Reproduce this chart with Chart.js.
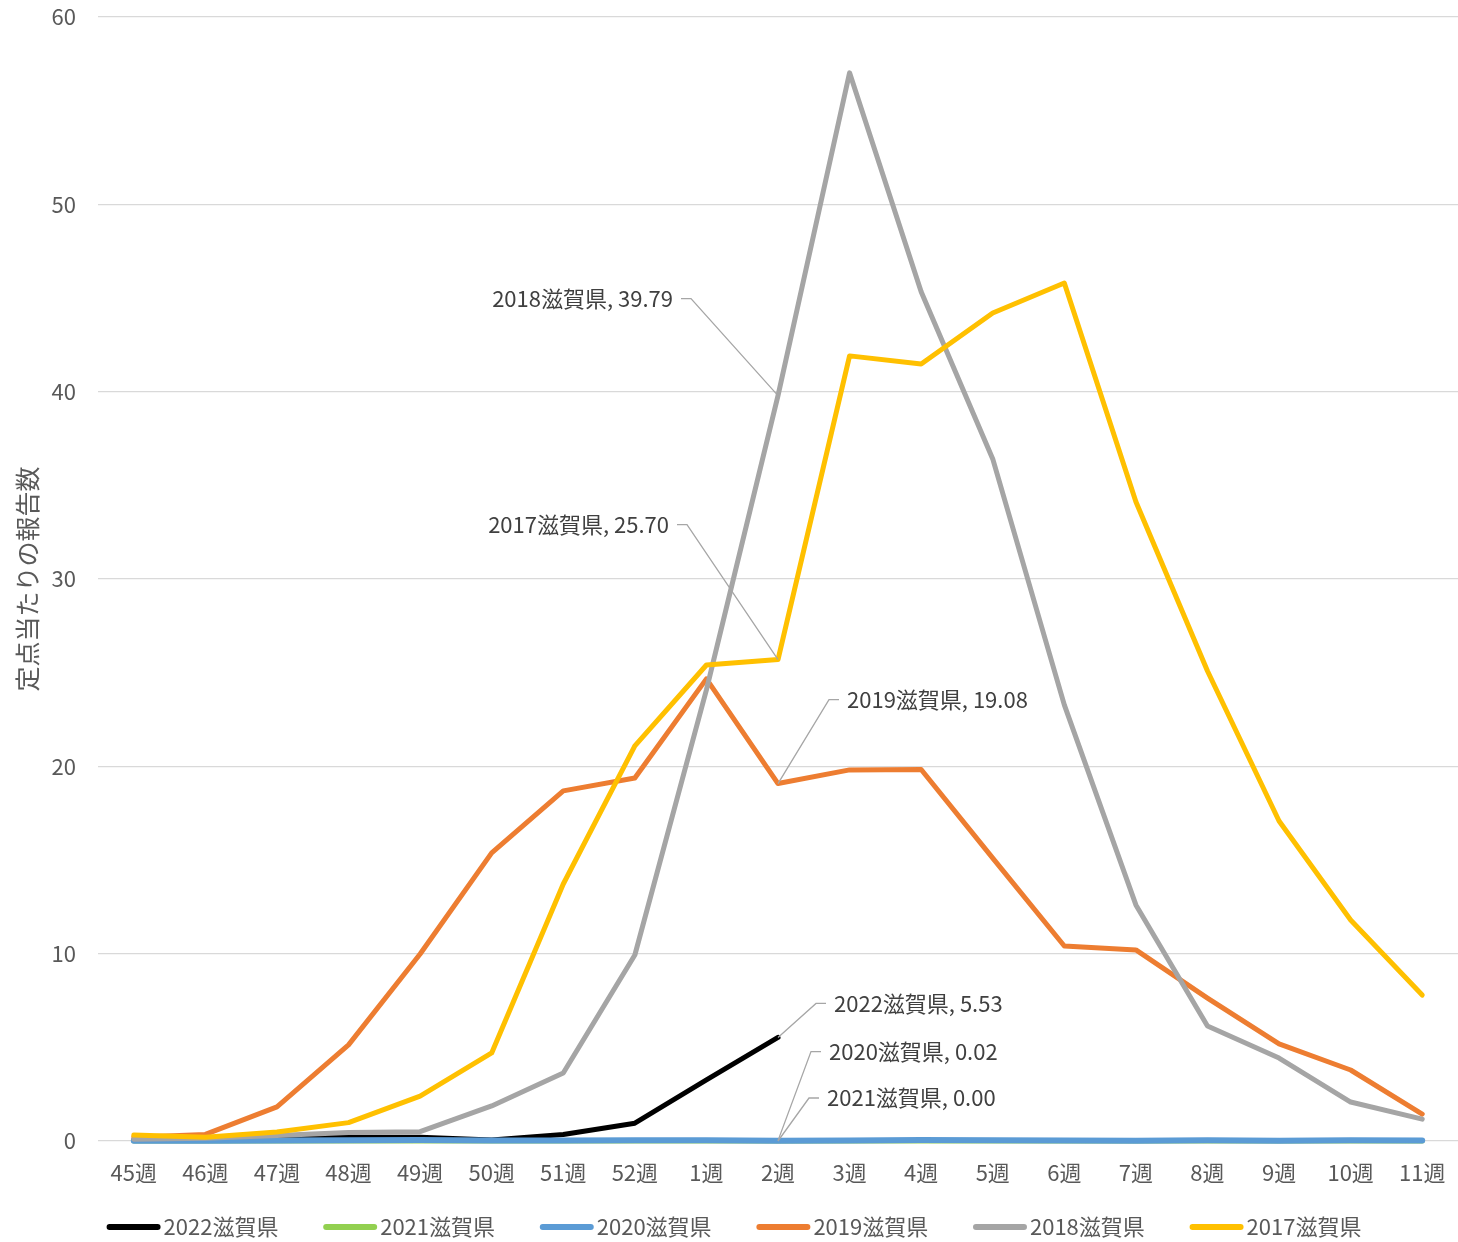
<!DOCTYPE html>
<html lang="ja">
<head>
<meta charset="utf-8">
<title>定点当たりの報告数 滋賀県</title>
<script src="https://cdn.jsdelivr.net/npm/chart.js@4.4.1/dist/chart.umd.min.js"></script>
<style>
    html, body { margin: 0; padding: 0; background: #fff; }
    #wrap { width: 1458px; height: 1242px; }
</style>
</head>
<body>
<div id="wrap"><canvas id="chart" width="1458" height="1242"></canvas></div>
<script>
// --- データ ---
const weeks = ['45週', '46週', '47週', '48週', '49週', '50週', '51週', '52週', '1週', '2週',
               '3週', '4週', '5週', '6週', '7週', '8週', '9週', '10週', '11週'];

const seriesNames = ['2022滋賀県', '2021滋賀県', '2020滋賀県', '2019滋賀県', '2018滋賀県', '2017滋賀県'];

const data2022 = [0.05, 0.1, 0.15, 0.2, 0.2, 0.05, 0.35, 0.95, 3.26, 5.53];
const data2021 = [0, 0, 0, 0, 0, 0, 0, 0, 0, 0, 0, 0, 0, 0, 0, 0, 0, 0, 0];
const data2020 = [0.01, 0.02, 0.03, 0.04, 0.05, 0.03, 0.03, 0.04, 0.04, 0.02, 0.03, 0.05, 0.04, 0.03, 0.02, 0.04, 0.02, 0.04, 0.03];
const data2019 = [0.2, 0.35, 1.82, 5.13, 9.98, 15.38, 18.69, 19.38, 24.67, 19.08, 19.81, 19.83, 15.1, 10.41, 10.2, 7.63, 5.18, 3.79, 1.44];
const data2018 = [0.1, 0.15, 0.3, 0.45, 0.5, 1.87, 3.63, 9.93, 24.08, 39.79, 57.02, 45.33, 36.41, 23.28, 12.6, 6.14, 4.43, 2.08, 1.17];
const data2017 = [0.32, 0.2, 0.48, 0.98, 2.4, 4.7, 13.72, 21.09, 25.41, 25.70, 41.91, 41.48, 44.2, 45.8, 34.12, 25.09, 17.08, 11.8, 7.79];

const yTicks = [0, 10, 20, 30, 40, 50, 60];

// --- スタイル ---
const colors = ['#000000', '#92d050', '#5b9bd5', '#ed7d31', '#a5a5a5', '#ffc000'];
const widths = [5, 5, 6, 5, 5, 5];
const allData = [data2022, data2021, data2020, data2019, data2018, data2017];
const FONT = '"Noto Sans CJK JP", "Noto Sans", sans-serif';
const TEXT_COLOR = '#595959';
const LABEL_INDEX = 9; // 2週

// ラベル位置 (データ点からのオフセット, px)
const labelOffsets = [
    { dx: 38, dy: -34, side: 'right' },   // 2022
    { dx: 31, dy: -43, side: 'right' },   // 2021 (2020ラベルの下)
    { dx: 33, dy: -89, side: 'right' },   // 2020
    { dx: 51, dy: -84, side: 'right' },   // 2019
    { dx: -87, dy: -97, side: 'left' },   // 2018
    { dx: -91, dy: -135, side: 'left' }   // 2017
];

const datasets = seriesNames.map((name, i) => ({
    label: name,
    data: allData[i],
    borderColor: colors[i],
    backgroundColor: colors[i],
    borderWidth: widths[i],
    pointRadius: 0,
    pointHoverRadius: 0,
    tension: 0,
    borderCapStyle: 'round',
    borderJoinStyle: 'round',
    clip: false,
    order: seriesNames.length - i
}));

// データラベル + 引き出し線
const leaderLabels = {
    id: 'leaderLabels',
    afterDatasetsDraw(chart) {
        const ctx = chart.ctx;
        const xs = chart.scales.x, ys = chart.scales.y;
        ctx.save();
        ctx.font = '22px ' + FONT;
        ctx.textBaseline = 'middle';
        datasets.forEach((ds, i) => {
            const v = ds.data[LABEL_INDEX];
            if (v === undefined) return;
            const px = xs.getPixelForValue(LABEL_INDEX);
            const py = ys.getPixelForValue(v);
            const off = labelOffsets[i];
            const ex = px + off.dx, ey = py + off.dy;
            const dir = off.side === 'right' ? 1 : -1;
            const hx = ex + dir * 10;
            ctx.strokeStyle = '#a6a6a6';
            ctx.lineWidth = 1.3;
            ctx.beginPath();
            ctx.moveTo(px, py);
            ctx.lineTo(ex, ey);
            ctx.lineTo(hx, ey);
            ctx.stroke();
            ctx.fillStyle = '#404040';
            ctx.textAlign = off.side === 'right' ? 'left' : 'right';
            ctx.fillText(ds.label + ', ' + v.toFixed(2), hx + dir * 8, ey);
        });
        ctx.restore();
    }
};

// 凡例 (線のサンプル付き)
const bottomLegend = {
    id: 'bottomLegend',
    afterDraw(chart) {
        const ctx = chart.ctx;
        ctx.save();
        ctx.font = '22px ' + FONT;
        ctx.textBaseline = 'middle';
        ctx.textAlign = 'left';
        const lineW = 54, gap = 3, step = 216.6;
        const lastW = lineW + gap + ctx.measureText(seriesNames[5]).width;
        const total = step * 5 + lastW;
        let x = (chart.width - total) / 2 + 5;
        const y = 1227;
        seriesNames.forEach((name, i) => {
            ctx.strokeStyle = colors[i];
            ctx.lineWidth = 6;
            ctx.lineCap = 'round';
            ctx.beginPath();
            ctx.moveTo(x + 3, y);
            ctx.lineTo(x + lineW - 3, y);
            ctx.stroke();
            ctx.fillStyle = TEXT_COLOR;
            ctx.fillText(name, x + lineW + gap, y);
            x += step;
        });
        ctx.restore();
    }
};

new Chart(document.getElementById('chart'), {
    type: 'line',
    data: { labels: weeks, datasets: datasets },
    plugins: [leaderLabels, bottomLegend],
    options: {
        responsive: false,
        animation: false,
        layout: { padding: { top: 17, right: 0, bottom: 51, left: 0 } },
        plugins: {
            legend: { display: false },
            tooltip: { enabled: false }
        },
        scales: {
            x: {
                offset: true,
                grid: { display: false },
                border: { display: false },
                ticks: {
                    color: TEXT_COLOR,
                    font: { family: FONT, size: 22 },
                    padding: 10,
                    maxRotation: 0,
                    autoSkip: false
                },
                afterFit(scale) {
                    scale.height = 50;
                    scale.paddingLeft = 0;
                    scale.paddingRight = 0;
                }
            },
            y: {
                min: 0,
                max: 60,
                afterBuildTicks(scale) { scale.ticks = yTicks.map(v => ({ value: v })); },
                grid: { color: '#d9d9d9', lineWidth: 1.3, drawTicks: false },
                border: { display: false },
                ticks: {
                    color: TEXT_COLOR,
                    font: { family: FONT, size: 22 },
                    padding: 22
                },
                title: {
                    display: true,
                    text: '定点当たりの報告数',
                    color: TEXT_COLOR,
                    font: { family: FONT, size: 25 },
                    padding: { top: 12, bottom: 0 }
                },
                afterFit(scale) {
                    scale.width = 98;
                    scale.paddingTop = 0;
                    scale.paddingBottom = 0;
                }
            }
        }
    }
});
</script>
</body>
</html>
